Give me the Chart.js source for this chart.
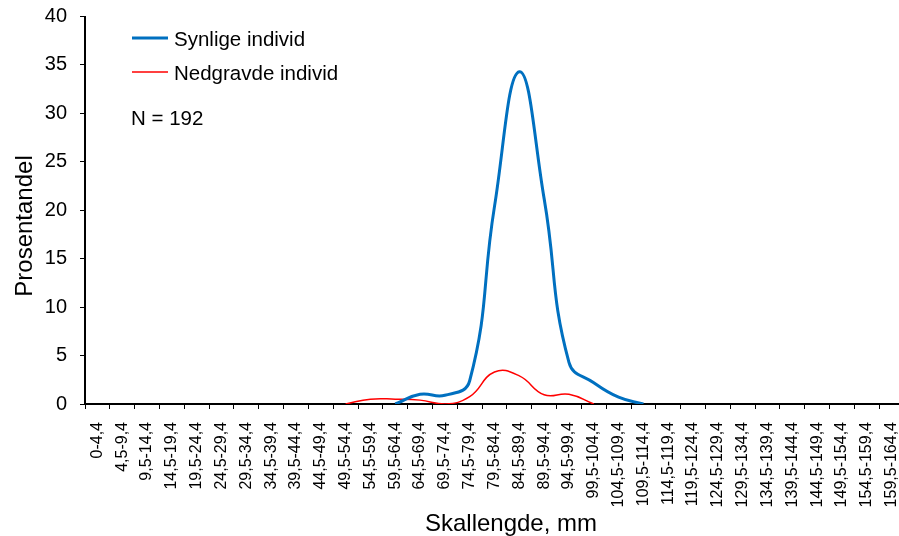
<!DOCTYPE html>
<html>
<head>
<meta charset="utf-8">
<script src="https://cdn.jsdelivr.net/npm/chart.js@4.4.0/dist/chart.umd.min.js"></script>
<style>
  html, body { margin: 0; padding: 0; background: #fff; overflow: hidden; }
  #wrap { width: 904px; height: 536px; }
</style>
</head>
<body>
<div id="wrap"><canvas id="skallChart" width="904" height="536"></canvas></div>
<script>
// Lengdeklasser (mm)
let kategorier = ["0-4,4", "4,5-9,4", "9,5-14,4", "14,5-19,4", "19,5-24,4", "24,5-29,4",
  "29,5-34,4", "34,5-39,4", "39,5-44,4", "44,5-49,4", "49,5-54,4", "54,5-59,4",
  "59,5-64,4", "64,5-69,4", "69,5-74,4", "74,5-79,4", "79,5-84,4", "84,5-89,4",
  "89,5-94,4", "94,5-99,4", "99,5-104,4", "104,5-109,4", "109,5-114,4", "114,5-119,4",
  "119,5-124,4", "124,5-129,4", "129,5-134,4", "134,5-139,4", "139,5-144,4",
  "144,5-149,4", "149,5-154,4", "154,5-159,4", "159,5-164,4"];

// Prosentandel per lengdeklasse
let synlige = [null, null, null, null, null, null, null, null, null, null, null, null,
  0, 1.0, 0.9, 2.4, 20.4, 34.3, 21.2, 4.3, 2.2, 0.7, 0,
  null, null, null, null, null, null, null, null, null, null];
let nedgravde = [null, null, null, null, null, null, null, null, null, null,
  0, 0.5, 0.5, 0.4, 0, 0.75, 3.3, 2.9, 0.95, 1.0, 0,
  null, null, null, null, null, null, null, null, null, null, null, null];

let yTicks = [0, 5, 10, 15, 20, 25, 30, 35, 40];
let serieNavn = ["Synlige individ", "Nedgravde individ"];
let antallTekst = "N = 192";
let xTittel = "Skallengde, mm";
let yTittel = "Prosentandel";

const FONT = '"Liberation Sans", Arial, sans-serif';

// tegner forklaring og aksetitler
const tekstPlugin = {
  id: 'tekster',
  afterDraw(chart) {
    const ctx = chart.ctx;
    ctx.save();
    ctx.fillStyle = '#000';
    ctx.textBaseline = 'alphabetic';

    // forklaring
    ctx.font = '20.5px ' + FONT;
    ctx.textAlign = 'left';
    const rader = [38, 72];
    chart.data.datasets.forEach((ds, i) => {
      ctx.beginPath();
      ctx.strokeStyle = ds.borderColor;
      ctx.lineWidth = ds.borderWidth;
      ctx.moveTo(132, rader[i]);
      ctx.lineTo(168, rader[i]);
      ctx.stroke();
      ctx.fillText(ds.label, 174, rader[i] + 7.5);
    });
    ctx.fillText(antallTekst, 131, 125);

    // aksetitler
    ctx.font = '24px ' + FONT;
    ctx.textAlign = 'center';
    ctx.fillText(xTittel, 511, 531);
    ctx.translate(31.5, 226);
    ctx.rotate(-Math.PI / 2);
    ctx.fillText(yTittel, 0, 0);
    ctx.restore();
  }
};

let ctxSkall = document.getElementById("skallChart").getContext('2d');

let chart = new Chart(ctxSkall, {
  type: "line",
  data: {
    labels: kategorier,
    datasets: [{
      label: serieNavn[0],
      data: synlige,
      borderColor: "rgb(0, 112, 192)",
      borderWidth: 3,
      pointRadius: 0,
      tension: 0.45,
      fill: false,
      spanGaps: false
    }, {
      label: serieNavn[1],
      data: nedgravde,
      borderColor: "rgb(255, 0, 0)",
      borderWidth: 1.5,
      pointRadius: 0,
      tension: 0.45,
      fill: false,
      spanGaps: false
    }]
  },
  options: {
    responsive: false,
    animation: false,
    layout: {
      padding: { top: 16.5, right: 0, bottom: 0, left: 0 }
    },
    plugins: {
      legend: { display: false },
      tooltip: { enabled: false },
      title: { display: false }
    },
    scales: {
      x: {
        offset: true,
        grid: {
          offset: true,
          drawOnChartArea: false,
          drawTicks: true,
          tickLength: 5,
          color: "#000",
          lineWidth: 1
        },
        border: { color: "#000", width: 2 },
        ticks: {
          autoSkip: false,
          minRotation: 90,
          maxRotation: 90,
          padding: 13,
          color: "#000",
          font: { family: FONT, size: 16 }
        },
        afterFit: s => {
          s.height = 132;
          s.paddingLeft = 0;
          s.paddingRight = 0;
        }
      },
      y: {
        min: 0,
        max: 40,
        afterBuildTicks: s => { s.ticks = yTicks.map(v => ({ value: v })); },
        grid: {
          drawOnChartArea: false,
          drawTicks: true,
          tickLength: 5,
          color: "#000",
          lineWidth: 1
        },
        border: { color: "#000", width: 2 },
        ticks: {
          padding: 13,
          color: "#000",
          font: { family: FONT, size: 20 }
        },
        afterFit: s => {
          s.width = 85;
          s.paddingTop = 0;
          s.paddingBottom = 0;
        }
      }
    }
  },
  plugins: [tekstPlugin]
});
</script>
</body>
</html>
